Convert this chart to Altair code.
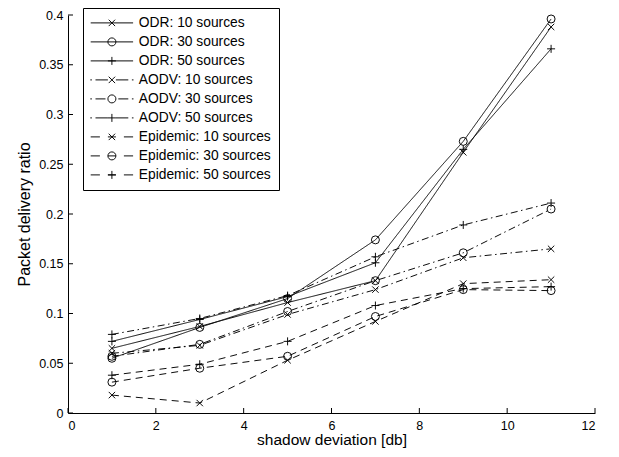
import altair as alt
import pandas as pd

x_vals = [1, 3, 5, 7, 9, 11]
series_names = [
    "ODR: 10 sources", "ODR: 30 sources", "ODR: 50 sources",
    "AODV: 10 sources", "AODV: 30 sources", "AODV: 50 sources",
    "Epidemic: 10 sources", "Epidemic: 30 sources", "Epidemic: 50 sources",
]
odr10 = [0.065, 0.087, 0.111, 0.133, 0.262, 0.388]
odr30 = [0.055, 0.086, 0.115, 0.174, 0.273, 0.396]
odr50 = [0.072, 0.094, 0.117, 0.151, 0.265, 0.366]
aodv10 = [0.060, 0.068, 0.099, 0.124, 0.156, 0.165]
aodv30 = [0.057, 0.069, 0.102, 0.133, 0.161, 0.205]
aodv50 = [0.079, 0.095, 0.118, 0.157, 0.189, 0.211]
epi10 = [0.018, 0.010, 0.053, 0.092, 0.130, 0.134]
epi30 = [0.031, 0.045, 0.057, 0.097, 0.124, 0.123]
epi50 = [0.038, 0.049, 0.072, 0.108, 0.125, 0.127]
all_values = [odr10, odr30, odr50, aodv10, aodv30, aodv50, epi10, epi30, epi50]

x_ticks = [0, 2, 4, 6, 8, 10, 12]
y_ticks = [0, 0.05, 0.1, 0.15, 0.2, 0.25, 0.3, 0.35, 0.4]

rows = []
for name, vals in zip(series_names, all_values):
    for xv, yv in zip(x_vals, vals):
        rows.append({"x": xv, "y": yv, "series": name})
df = pd.DataFrame(rows)
xt_df = pd.DataFrame({"t": x_ticks})
yt_df = pd.DataFrame({"t": y_ticks})

FONT = "Liberation Sans"
W, H = 527, 398
TICK = 5
LW = 0.95

SOLID = [1, 0]
DASHDOT = [7, 3.5, 1.5, 3.5]
DASHED = [7, 5]
dash_range = [SOLID] * 3 + [DASHDOT] * 3 + [DASHED] * 3

XM = "M-0.8,-0.8L0.8,0.8M-0.8,0.8L0.8,-0.8"
OM = "M1,0A1,1 0 1,1 -1,0A1,1 0 1,1 1,0"
PM = "M-1,0H1M0,-1V1"
marker_range = [XM, "circle", PM] * 3

solid_line = "M-5.3,0H5.3"
dd_left = "M-5.4,0H-5.0M-4.1,0H-1.6"
dd_right = "M1.6,0H4.1M5.0,0H5.4"
dd_left_x = "M-5.4,0H-5.0M-4.1,0H-1.0"
dd_right_x = "M1.0,0H4.1M5.0,0H5.4"
da = "M-5.3,0H-3.0M-1.0,0H1.0M3.0,0H5.3"
legend_paths = [
    solid_line + XM, solid_line + OM, solid_line + PM,
    dd_left_x + dd_right_x + XM, dd_left + dd_right + OM, dd_left_x + dd_right_x + PM,
    da + XM, da + OM, da + PM,
]

xscale = alt.Scale(domain=[0, 12], nice=False, zero=False)
yscale = alt.Scale(domain=[0, 0.4], nice=False)

lines = alt.Chart(df).mark_line(color="black", strokeWidth=LW).encode(
    x=alt.X("x:Q", scale=xscale, axis=alt.Axis(
        orient="bottom", values=x_ticks, tickSize=0, grid=False, domainColor="black",
        domainWidth=1, labelFont=FONT, labelFontSize=12.5, labelColor="black",
        labelPadding=6, title="shadow deviation [db]", titleFont=FONT,
        titleFontSize=15.5, titleFontWeight="normal", titleColor="black", titlePadding=1)),
    y=alt.Y("y:Q", scale=yscale, axis=alt.Axis(
        orient="left", values=y_ticks, tickSize=0, grid=False, domainColor="black",
        domainWidth=1, format="~g", labelFont=FONT, labelFontSize=12.5, labelColor="black",
        labelPadding=5, title="Packet delivery ratio", titleFont=FONT,
        titleFontSize=16, titleFontWeight="normal", titleColor="black", titlePadding=6)),
    detail="series:N",
    strokeDash=alt.StrokeDash("series:N", scale=alt.Scale(domain=series_names, range=dash_range), legend=None),
)

points = alt.Chart(df).mark_point(filled=False, color="black", size=64, strokeWidth=LW, opacity=1).encode(
    x=alt.X("x:Q", scale=xscale, axis=None),
    y=alt.Y("y:Q", scale=yscale, axis=None),
    shape=alt.Shape("series:N", scale=alt.Scale(domain=series_names, range=marker_range), legend=None),
)

xticks_layer = alt.Chart(xt_df).mark_rule(color="black", strokeWidth=1).encode(
    x=alt.X("t:Q", scale=xscale, axis=None),
    y=alt.value(H),
    y2=alt.value(H - TICK),
)
yticks_layer = alt.Chart(yt_df).mark_rule(color="black", strokeWidth=1).encode(
    y=alt.Y("t:Q", scale=yscale, axis=None),
    x=alt.value(0),
    x2=alt.value(TICK),
)

legend_layer = alt.Chart(df).mark_point(filled=False, color="black", size=64, strokeWidth=LW, opacity=0).encode(
    x=alt.X("x:Q", scale=xscale, axis=None),
    y=alt.Y("y:Q", scale=yscale, axis=None),
    shape=alt.Shape("series:N", scale=alt.Scale(domain=series_names, range=legend_paths),
                    sort=series_names,
                    legend=alt.Legend(
                        title=None, orient="none", legendX=15, legendY=-7,
                        strokeColor="black", fillColor="white", padding=8,
                        labelFont=FONT, labelFontSize=13.8, labelColor="black",
                        symbolStrokeColor="black", symbolStrokeWidth=LW, symbolOpacity=1,
                        symbolSize=64, symbolFillColor="transparent",
                        symbolOffset=14, labelOffset=20, rowPadding=4)),
)

chart = alt.layer(lines, points, xticks_layer, yticks_layer, legend_layer).resolve_scale(
    shape="independent"
).resolve_axis(
    x="independent", y="independent"
).properties(
    width=W, height=H,
    autosize=alt.AutoSizeParams(type="none"),
    padding={"left": 60, "top": 7, "right": 16, "bottom": 36},
).configure_view(stroke=None)

chart.save("out.html", embed_options={"renderer": "svg", "actions": False})
